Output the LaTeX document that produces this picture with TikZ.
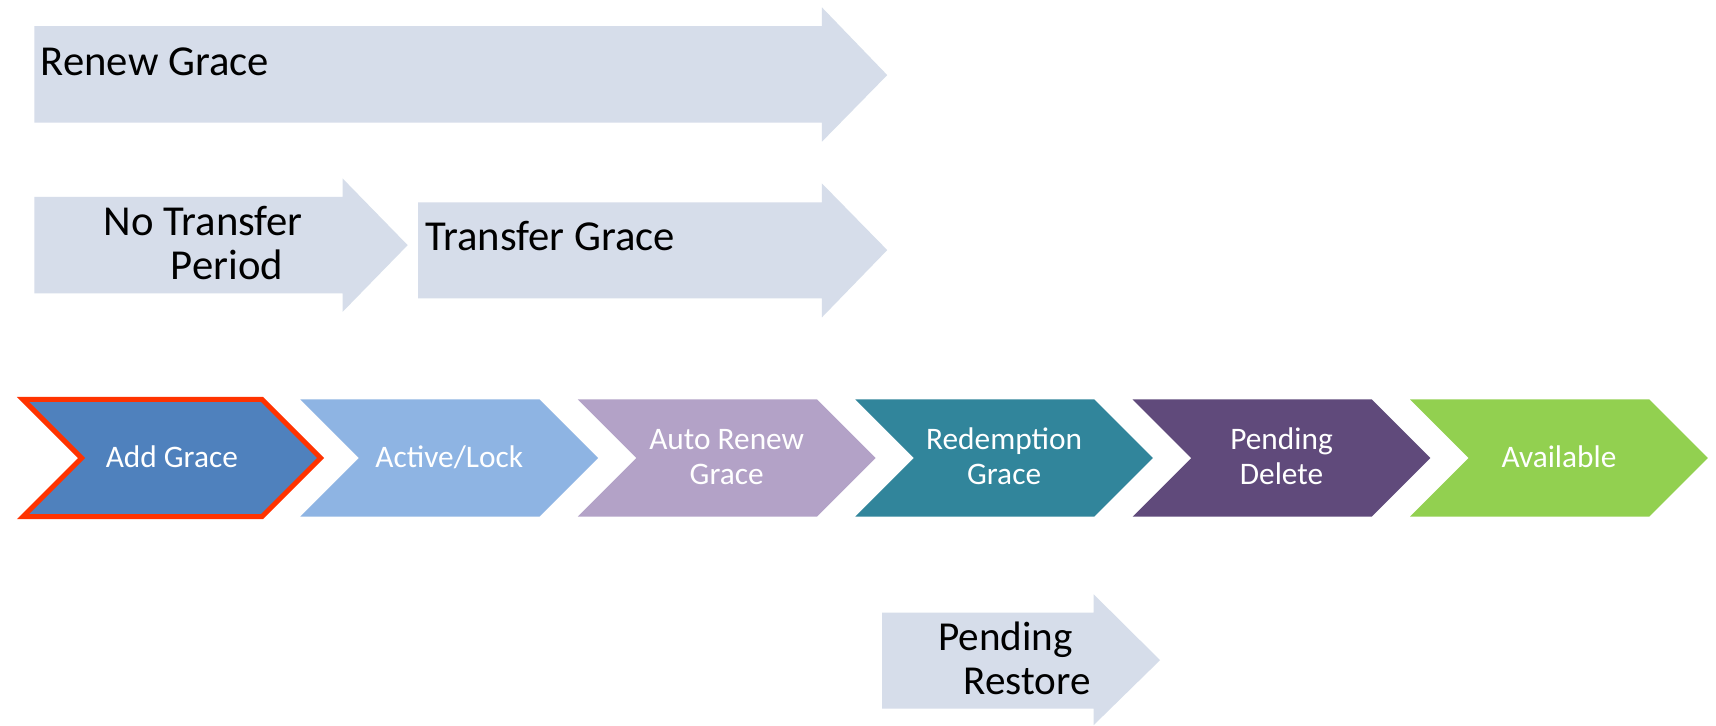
\documentclass[tikz,border=0pt]{standalone}
\usepackage{fontspec}
\setmainfont{Carlito}
\definecolor{pale}{RGB}{214,221,234}
\definecolor{cAdd}{RGB}{79,129,189}
\definecolor{cActive}{RGB}{142,180,227}
\definecolor{cAuto}{RGB}{179,162,199}
\definecolor{cRedem}{RGB}{49,133,155}
\definecolor{cPend}{RGB}{96,74,123}
\definecolor{cAvail}{RGB}{146,208,80}
\definecolor{cBorder}{RGB}{255,51,0}
\tikzset{
  paletext/.style={inner sep=0pt, text=black, font=\fontsize{22.2}{23.3}\selectfont},
  chevtext/.style={inner sep=0pt, text=white, font=\fontsize{16.3}{18}\selectfont},
}
\newcommand\chevpath[2]{%
  \path[#2] (#1,365) -- ({#1+218.5},365) -- ({#1+272},418.5) -- ({#1+218.5},472)
    -- (#1,472) -- ({#1+53.5},418.5) -- cycle;}
\begin{document}
\begin{tikzpicture}[x=0.02cm,y=-0.02cm]
\useasboundingbox (0,0) rectangle (1568,662.5);
\fill[white] (0,0) rectangle (1568,662.5);

% pale arrows
\fill[pale] (31.5,23.8) -- (751,23.8) -- (751,6.7) -- (810.7,68.6) -- (751,129.5) -- (751,112.1) -- (31.5,112.1) -- cycle;
\fill[pale] (31.5,179.8) -- (313,179.8) -- (313,163) -- (372.5,224) -- (313,285) -- (313,268) -- (31.5,268) -- cycle;
\fill[pale] (382,185) -- (751,185) -- (751,167.6) -- (810.7,228.5) -- (751,290) -- (751,272.7) -- (382,272.7) -- cycle;
\fill[pale] (806,559.7) -- (999.3,559.7) -- (999.3,543) -- (1060,603.2) -- (999.3,662.6) -- (999.3,647.4) -- (806,647.4) -- cycle;

\node[paletext, anchor=base west] (renew) at (37,68.6) {Renew Grace};
\node[paletext, anchor=base west] (notransfer) at (94.4,214.8)
  {\begin{tabular}[t]{@{}l@{}}No Transfer\\\hspace*{1.23cm}Period\end{tabular}};
\node[paletext, anchor=base west] (transfer) at (388,228.5) {Transfer Grace};
\node[paletext, anchor=base west, font=\fontsize{21.4}{23.3}\selectfont] (restore) at (857,594)
  {\begin{tabular}[t]{@{}l@{}}Pending\\\hspace*{0.46cm}Restore\end{tabular}};

% chevrons
\chevpath{21}{fill=cAdd, draw=cBorder, line width=2.6pt, line join=miter}
\chevpath{274.5}{fill=cActive}
\chevpath{528}{fill=cAuto}
\chevpath{781.5}{fill=cRedem}
\chevpath{1035}{fill=cPend}
\chevpath{1288.5}{fill=cAvail}

\node[chevtext, anchor=base] (add) at (157,427) {Add Grace};
\node[chevtext, anchor=base] (active) at (410.5,427) {Active/Lock};
\node[chevtext, anchor=base] (auto) at (664,411) {\begin{tabular}[t]{@{}c@{}}Auto Renew\\Grace\end{tabular}};
\node[chevtext, anchor=base] (redemption) at (917.5,411) {\begin{tabular}[t]{@{}c@{}}Redemption\\Grace\end{tabular}};
\node[chevtext, anchor=base] (pdelete) at (1171,411) {\begin{tabular}[t]{@{}c@{}}Pending\\Delete\end{tabular}};
\node[chevtext, anchor=base] (available) at (1424.5,427) {Available};
\end{tikzpicture}
\end{document}
